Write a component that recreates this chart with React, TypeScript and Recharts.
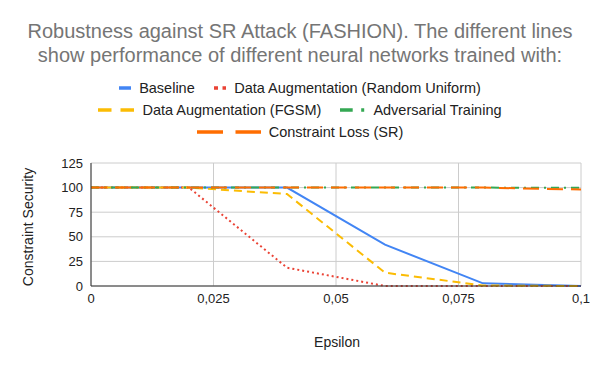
import React from 'react';
import { LineChart, Line, XAxis, YAxis, CartesianGrid } from 'recharts';

const epsilons = [0, 0.02, 0.04, 0.06, 0.08, 0.1];
const baseline = [100, 100, 100, 42, 2.7, 0];
const randomUniform = [100, 100, 18.6, 0, 0, 0];
const fgsm = [100, 100, 93.5, 13.5, 0.5, 0];
const adversarial = [100, 100, 100, 100, 100, 99.8];
const constraintLoss = [100, 100, 100, 100, 100, 98];
const xTicks = [0, 0.025, 0.05, 0.075, 0.1];
const yTicks = [0, 25, 50, 75, 100, 125];

const data = epsilons.map((e, i) => ({
  eps: e,
  baseline: baseline[i],
  randomUniform: randomUniform[i],
  fgsm: fgsm[i],
  adversarial: adversarial[i],
  constraintLoss: constraintLoss[i],
}));

const FONT = '"Liberation Sans", Arial, sans-serif';

const LegendIcon = ({ width, color, dash }: { width: number; color: string; dash?: string }) => (
  <svg width={width} height={6} style={{ display: 'block' }}>
    <line x1={0} y1={3} x2={width} y2={3} stroke={color} strokeWidth={3.5} strokeDasharray={dash} />
  </svg>
);

const LegendItem = ({ icon, label }: { icon: React.ReactNode; label: string }) => (
  <div style={{ display: 'flex', alignItems: 'center', margin: '0 9.5px' }}>
    {icon}
    <span style={{ marginLeft: 8, fontSize: 14.5, color: '#222', whiteSpace: 'nowrap' }}>{label}</span>
  </div>
);

export default function App() {
  return (
    <div style={{ position: 'absolute', left: 0, top: 0, width: 600, height: 371, background: '#fff', fontFamily: FONT, overflow: 'hidden' }}>
      <div style={{ position: 'absolute', left: 0, top: 19, width: 600, textAlign: 'center', fontSize: 20, lineHeight: '24px', color: '#757575' }}>
        <div>Robustness against SR Attack (FASHION). The different lines</div>
        <div>show performance of different neural networks trained with:</div>
      </div>
      <div style={{ position: 'absolute', left: 0, top: 77, width: 600 }}>
        <div style={{ display: 'flex', justifyContent: 'center', height: 22, alignItems: 'center' }}>
          <LegendItem icon={<LegendIcon width={12} color="#4285F4" />} label="Baseline" />
          <LegendItem icon={<LegendIcon width={12.5} color="#EA4335" dash="4 4.5" />} label="Data Augmentation (Random Uniform)" />
        </div>
        <div style={{ display: 'flex', justifyContent: 'center', height: 22, alignItems: 'center' }}>
          <LegendItem icon={<LegendIcon width={36} color="#FBBC04" dash="13.5 9" />} label="Data Augmentation (FGSM)" />
          <LegendItem icon={<LegendIcon width={25} color="#34A853" dash="12.7 8.5 3 8.5" />} label="Adversarial Training" />
        </div>
        <div style={{ display: 'flex', justifyContent: 'center', height: 22, alignItems: 'center' }}>
          <LegendItem icon={<LegendIcon width={64} color="#FF6D01" dash="26 12.5" />} label="Constraint Loss (SR)" />
        </div>
      </div>
      <div style={{ position: 'absolute', left: 28, top: 227, transform: 'translate(-50%, -50%) rotate(-90deg)', fontSize: 14, color: '#222', whiteSpace: 'nowrap' }}>
        Constraint Security
      </div>
      <div style={{ position: 'absolute', left: 337, top: 342, transform: 'translate(-50%, -50%)', fontSize: 14, color: '#222' }}>
        Epsilon
      </div>
      <LineChart width={600} height={371} data={data} margin={{ top: 163, right: 19, bottom: 55, left: 0 }}>
        <CartesianGrid stroke="#cccccc" strokeWidth={1} />
        <XAxis
          dataKey="eps"
          type="number"
          domain={[0, 0.1]}
          ticks={xTicks}
          tickFormatter={(v: number) => String(v).replace('.', ',')}
          tick={{ fill: '#222', fontSize: 13, fontFamily: FONT }}
          tickLine={false}
          axisLine={{ stroke: '#333', strokeWidth: 1 }}
          height={30}
          interval={0}
        />
        <YAxis
          type="number"
          domain={[0, 125]}
          ticks={yTicks}
          tick={{ fill: '#222', fontSize: 13, fontFamily: FONT }}
          tickLine={false}
          axisLine={{ stroke: '#333', strokeWidth: 1 }}
          width={91}
          interval={0}
        />
        <Line dataKey="baseline" stroke="#4285F4" strokeWidth={2} dot={false} isAnimationActive={false} type="linear" />
        <Line dataKey="randomUniform" stroke="#EA4335" strokeWidth={2} strokeDasharray="2 3" dot={false} isAnimationActive={false} type="linear" />
        <Line dataKey="fgsm" stroke="#FBBC04" strokeWidth={2} strokeDasharray="8 5" dot={false} isAnimationActive={false} type="linear" />
        <Line dataKey="adversarial" stroke="#34A853" strokeWidth={2} strokeDasharray="8 5 2 5" dot={false} isAnimationActive={false} type="linear" />
        <Line dataKey="constraintLoss" stroke="#FF6D01" strokeWidth={2} strokeDasharray="16 8" dot={false} isAnimationActive={false} type="linear" />
      </LineChart>
    </div>
  );
}
